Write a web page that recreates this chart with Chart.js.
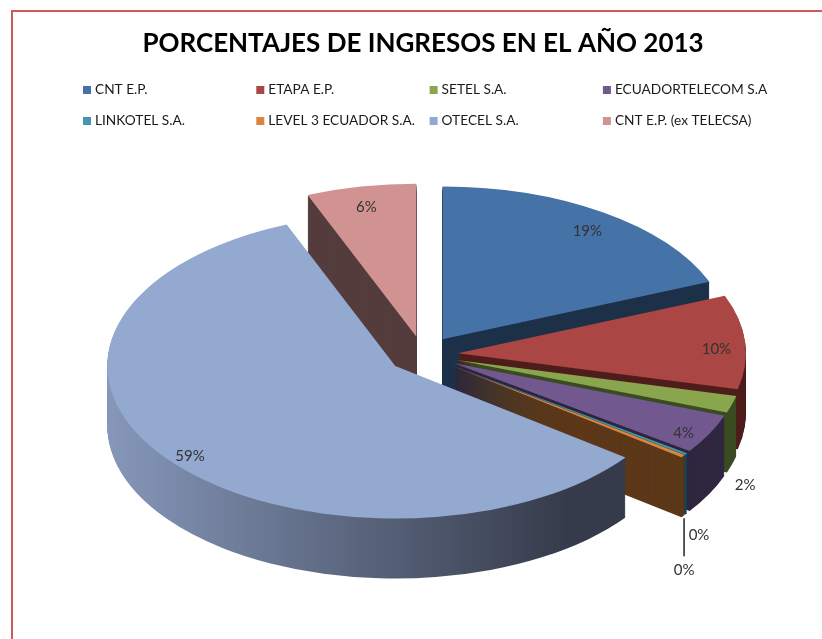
<!DOCTYPE html>
<html>
<head>
<meta charset="utf-8">
<title>Porcentajes de ingresos 2013</title>
<script src="https://cdn.jsdelivr.net/npm/chart.js@4.4.0/dist/chart.umd.min.js"></script>
<style>
  html, body { margin: 0; padding: 0; background: #fff; }
  canvas { display: block; }
</style>
</head>
<body>
<canvas id="myChart" width="822" height="639"></canvas>
<script>
// empresas, en el orden de Excel (empieza a las 12 y va en sentido horario)
const companies = ['CNT E.P.', 'ETAPA E.P.', 'SETEL S.A.', 'ECUADORTELECOM S.A', 'LINKOTEL S.A.', 'LEVEL 3 ECUADOR S.A.', 'OTECEL S.A.', 'CNT E.P. (ex TELECSA)'];
// porcentaje de ingresos
const shares = [19.0, 10.0, 1.8, 4.2, 0.2, 0.3, 59.0, 6.2];
const topColors = ['#4572A7', '#AA4643', '#89A54E', '#71588F', '#4198AF', '#DB843D', '#93A9CF', '#D19392'];
// color del costado 3D; un par = degradado de izquierda a derecha
const sideColors = ['#1D3149', '#4E1D1C', '#3B4B22', '#2F263F', '#1C4450', '#5C3819', ['#8C9EC2', '#353B4A'], '#543C3C'];

const tilt = 0.53;     // aplastamiento vertical de la torta
const depth = 60;      // grosor en pixeles
const explode = 35;    // separacion de las porciones

const ctx = document.getElementById('myChart').getContext('2d');

const arcShift = (arc) => {
    const mid = (arc.startAngle + arc.endAngle) / 2;
    return { dx: Math.cos(mid) * explode, dy: Math.sin(mid) * explode, mid: mid };
};

//dibuja la torta "3D": costados apilados y luego las caras de arriba
const pie3d = {
    id: 'pie3d',
    beforeDraw(chart) {
        const c = chart.ctx;
        c.save();
        c.fillStyle = '#fff';
        c.fillRect(0, 0, chart.width, chart.height);
        c.strokeStyle = '#CB5B5B';
        c.lineWidth = 2;
        c.beginPath();
        c.moveTo(12, chart.height + 5);
        c.lineTo(12, 11);
        c.lineTo(chart.width + 5, 11);
        c.stroke();
        c.restore();
    },
    beforeDatasetsDraw(chart) {
        const c = chart.ctx;
        const arcs = chart.getDatasetMeta(0).data;
        const cx = arcs[0].x, cy = arcs[0].y;
        const r = arcs[0].outerRadius;
        c.save();
        c.translate(cx, cy);
        c.scale(1, tilt);
        c.translate(-cx, -cy);
        const sideFill = (i) => {
            const s = sideColors[i];
            if (!Array.isArray(s)) return s;
            const g = c.createLinearGradient(cx - r - explode, 0, cx + r * 0.6, 0);
            g.addColorStop(0, s[0]);
            g.addColorStop(1, s[1]);
            return g;
        };
        const drawArc = (arc, fill, drop) => {
            const sh = arcShift(arc);
            c.save();
            c.translate(sh.dx, sh.dy + drop);
            const old = arc.options.backgroundColor;
            arc.options.backgroundColor = fill;
            arc.draw(c);
            arc.options.backgroundColor = old;
            c.restore();
        };
        for (let d = depth; d > 0; d--) {
            arcs.forEach((arc, i) => drawArc(arc, sideFill(i), d / tilt));
        }
        arcs.forEach((arc, i) => drawArc(arc, topColors[i], 0));
        c.restore();
        return false;
    },
    afterDraw(chart) {
        const c = chart.ctx;
        const arcs = chart.getDatasetMeta(0).data;
        const total = shares.reduce((a, b) => a + b, 0);
        c.save();
        //leyenda en 4 columnas
        c.font = '13.7px Lato';
        c.textBaseline = 'middle';
        c.textAlign = 'left';
        companies.forEach((name, i) => {
            const x = 83 + (i % 4) * 173.3;
            const y = 90 + Math.floor(i / 4) * 31;
            c.fillStyle = topColors[i];
            c.fillRect(x, y - 4, 8, 8);
            c.fillStyle = '#1a1a1a';
            c.fillText(name, x + 12, y);
        });
        //etiquetas de porcentaje
        c.font = '15px Lato';
        c.textAlign = 'center';
        c.fillStyle = '#333';
        c.strokeStyle = '#222';
        c.lineWidth = 1.5;
        let lastSmall = null;
        arcs.forEach((arc, i) => {
            const pct = Math.round(shares[i] / total * 100) + '%';
            const sh = arcShift(arc);
            const cos = Math.cos(sh.mid), sin = Math.sin(sh.mid);
            if (shares[i] >= 3) {
                const rr = explode + arc.outerRadius * 0.9;
                c.fillText(pct, arc.x + cos * rr, arc.y + sin * rr * tilt + 6);
                return;
            }
            const rr = explode + arc.outerRadius;
            const ax = arc.x + cos * rr;
            const ay = arc.y + sin * rr * tilt + depth;
            let lx = ax + 13, ly = ay + 21;
            if (lastSmall && Math.abs(ly - lastSmall.y) < 24 && Math.abs(lx - lastSmall.x) < 30) {
                lx = ax + 1;
                ly = ay + 54;
                c.beginPath();
                c.moveTo(ax + 1, ay + 2);
                c.lineTo(ax + 1, ly - 14);
                c.stroke();
            }
            c.fillText(pct, lx, ly);
            lastSmall = { x: lx, y: ly };
        });
        c.restore();
    }
};

const myChart = new Chart(ctx, {
    type: 'pie',
    data: {
        labels: companies,
        datasets: [{
            data: shares,
            backgroundColor: topColors,
            borderWidth: 0
        }]
    },
    options: {
        responsive: false,
        animation: false,
        events: [],
        radius: 288,
        layout: {
            padding: { top: 6, bottom: 49, left: 24, right: 0 }
        },
        plugins: {
            title: {
                display: true,
                text: 'PORCENTAJES DE INGRESOS EN EL AÑO 2013',
                color: '#000',
                font: { family: 'Lato', size: 26, weight: 'bold' },
                padding: { top: 22, bottom: 60 }
            },
            legend: { display: false },
            tooltip: { enabled: false }
        }
    },
    plugins: [pie3d]
});
</script>
</body>
</html>
